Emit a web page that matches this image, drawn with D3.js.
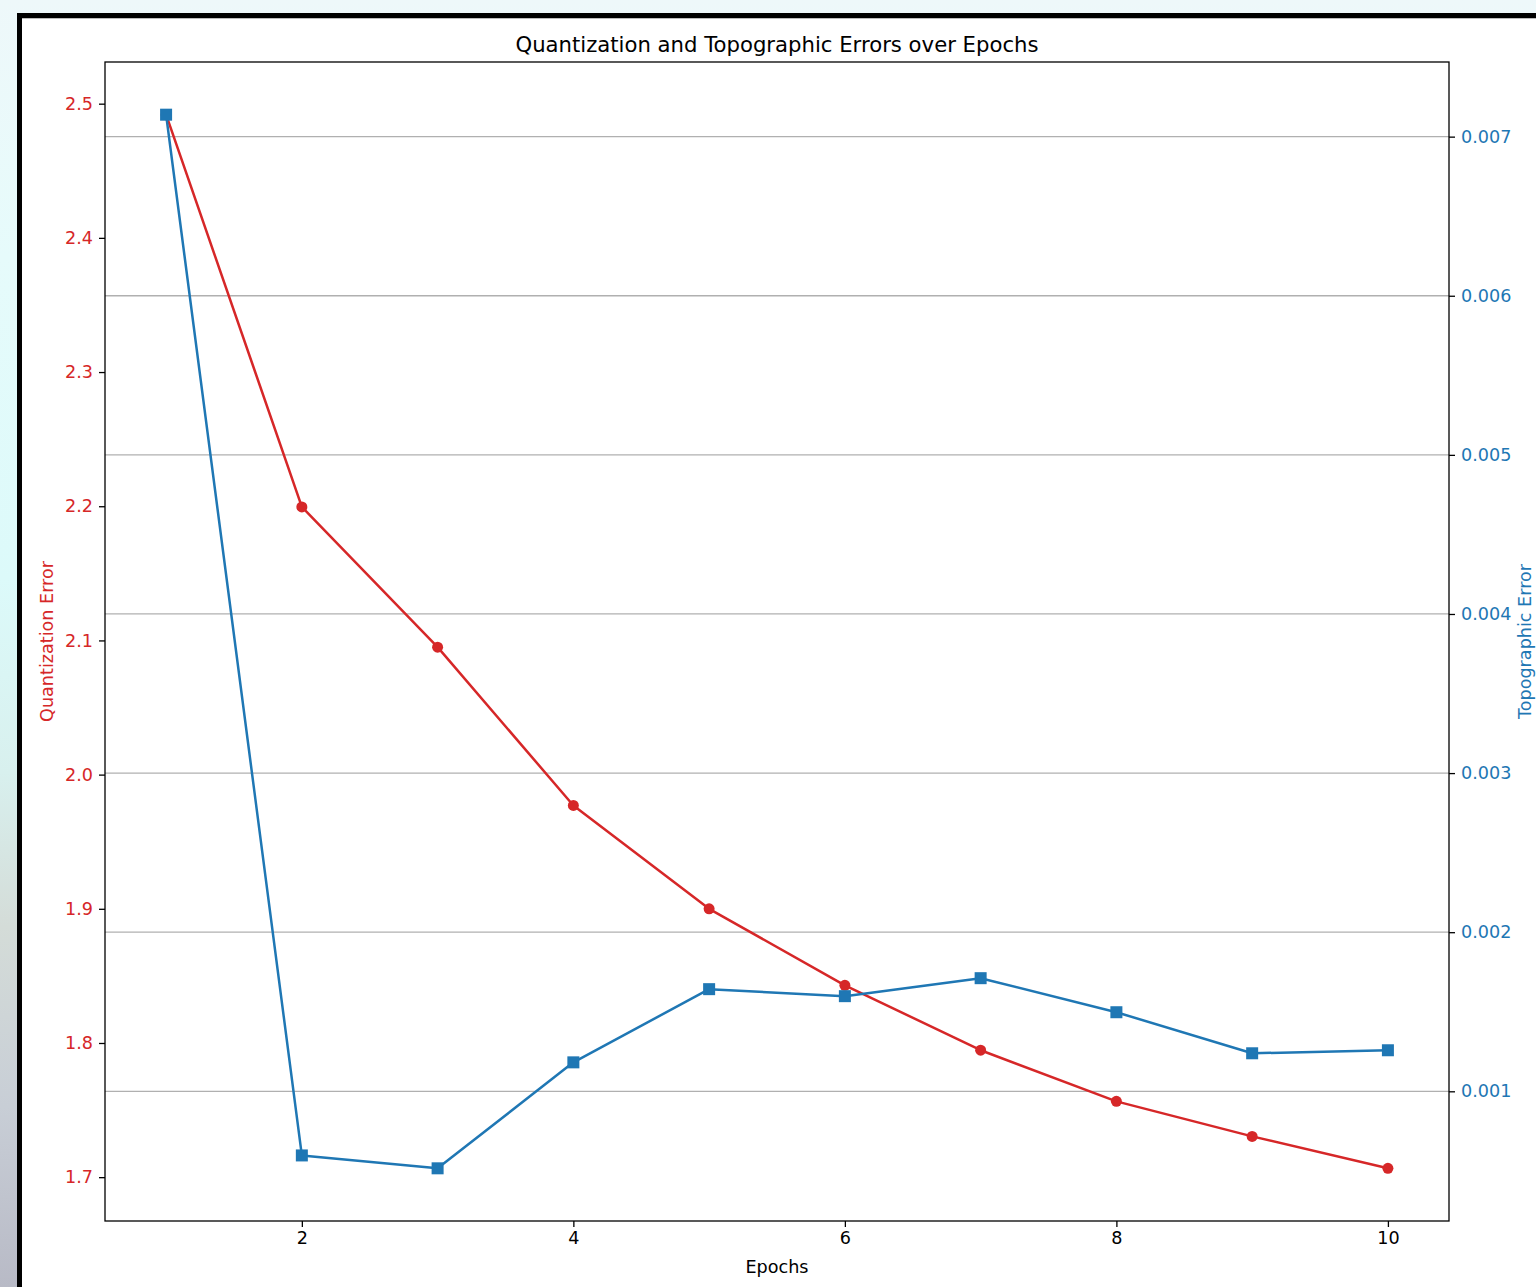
<!DOCTYPE html>
<html>
<head>
<meta charset="utf-8">
<script src="https://cdn.jsdelivr.net/npm/d3@7"></script>
<style>
  html, body { margin: 0; padding: 0; background: #fff; }
  svg { display: block; font-family: "DejaVu Sans", sans-serif; }
</style>
</head>
<body>
<svg id="chart" width="1536" height="1287"></svg>
<script>
// Training history
const epochs = [1, 2, 3, 4, 5, 6, 7, 8, 9, 10];
const quantizationError = [2.4918, 2.1995, 2.095, 1.977, 1.900, 1.843, 1.7946, 1.7565, 1.7304, 1.7066];
const topographicError = [0.007138, 0.000597, 0.000516, 0.001182, 0.001642, 0.001598, 0.001711, 0.001497, 0.001239, 0.001258];
const xTicks = [2, 4, 6, 8, 10];
const qTicks = [1.7, 1.8, 1.9, 2.0, 2.1, 2.2, 2.3, 2.4, 2.5];
const tTicks = [0.001, 0.002, 0.003, 0.004, 0.005, 0.006, 0.007];

const RED = "#d62728", BLUE = "#1f77b4";
const W = 1536, H = 1287;
const svg = d3.select("#chart");

// Page backdrop
const defs = svg.append("defs");
const grad = defs.append("linearGradient").attr("id", "bg").attr("x1", 0).attr("y1", 0).attr("x2", 0).attr("y2", 1);
[[0, "#eef8fa"], [0.2, "#e6fbfb"], [0.45, "#dcfafa"], [0.6, "#d8f0ee"], [0.72, "#d4dcd8"], [0.86, "#c8ced6"], [1, "#b8bac6"]]
  .forEach(([o, c]) => grad.append("stop").attr("offset", o).attr("stop-color", c));
svg.append("rect").attr("width", W).attr("height", H).attr("fill", "url(#bg)");

// Figure frame
svg.append("rect").attr("x", 17).attr("y", 13).attr("width", W).attr("height", H).attr("fill", "#000");
svg.append("rect").attr("x", 22).attr("y", 18).attr("width", W).attr("height", H).attr("fill", "#fff");
svg.append("line").attr("x1", 22).attr("x2", W).attr("y1", 18.5).attr("y2", 18.5).attr("stroke", "#bbb").attr("stroke-width", 1);

// Plot area
const plot = { left: 105, right: 1449, top: 62, bottom: 1221 };

function padded(vals) {
  const [lo, hi] = d3.extent(vals);
  const m = (hi - lo) * 0.05;
  return [lo - m, hi + m];
}

const x = d3.scaleLinear().domain(padded(epochs)).range([plot.left, plot.right]);
const yQ = d3.scaleLinear().domain(padded(quantizationError)).range([plot.bottom, plot.top]);
const yT = d3.scaleLinear().domain(padded(topographicError)).range([plot.bottom, plot.top]);

const fs = 17.6;

// Horizontal grid from the right-hand axis
svg.append("g").selectAll("line").data(tTicks).join("line")
  .attr("x1", plot.left).attr("x2", plot.right)
  .attr("y1", d => yT(d)).attr("y2", d => yT(d))
  .attr("stroke", "#b0b0b0").attr("stroke-width", 1.3);

// Quantization error series
svg.append("path").datum(epochs.map((e, i) => [e, quantizationError[i]]))
  .attr("d", d3.line().x(d => x(d[0])).y(d => yQ(d[1])))
  .attr("fill", "none").attr("stroke", RED).attr("stroke-width", 2.5).attr("stroke-linejoin", "round");
svg.append("g").selectAll("circle").data(epochs).join("circle")
  .attr("cx", d => x(d)).attr("cy", (d, i) => yQ(quantizationError[i]))
  .attr("r", 5.5).attr("fill", RED);

// Topographic error series
svg.append("path").datum(epochs.map((e, i) => [e, topographicError[i]]))
  .attr("d", d3.line().x(d => x(d[0])).y(d => yT(d[1])))
  .attr("fill", "none").attr("stroke", BLUE).attr("stroke-width", 2.5).attr("stroke-linejoin", "round");
const sq = 12;
svg.append("g").selectAll("rect").data(epochs).join("rect")
  .attr("x", d => x(d) - sq / 2).attr("y", (d, i) => yT(topographicError[i]) - sq / 2)
  .attr("width", sq).attr("height", sq).attr("fill", BLUE);

// Axes
function styleAxis(g, color) {
  g.select(".domain").remove();
  g.selectAll(".tick line").attr("stroke", "#000").attr("stroke-width", 1.3);
  g.selectAll(".tick text").attr("fill", color).attr("font-size", fs).attr("font-family", "DejaVu Sans");
}
svg.append("g").attr("transform", `translate(0,${plot.bottom})`)
  .call(d3.axisBottom(x).tickValues(xTicks).tickSize(6).tickPadding(5).tickFormat(d3.format("d")))
  .call(g => styleAxis(g, "#000"));
svg.append("g").attr("transform", `translate(${plot.left},0)`)
  .call(d3.axisLeft(yQ).tickValues(qTicks).tickSize(6).tickPadding(6).tickFormat(d3.format(".1f")))
  .call(g => styleAxis(g, RED));
svg.append("g").attr("transform", `translate(${plot.right},0)`)
  .call(d3.axisRight(yT).tickValues(tTicks).tickSize(6).tickPadding(6).tickFormat(d3.format(".3f")))
  .call(g => styleAxis(g, BLUE));

// Frame
svg.append("rect").attr("x", plot.left).attr("y", plot.top)
  .attr("width", plot.right - plot.left).attr("height", plot.bottom - plot.top)
  .attr("fill", "none").attr("stroke", "#000").attr("stroke-width", 1.3);

// Titles
const cx = (plot.left + plot.right) / 2, cy = (plot.top + plot.bottom) / 2;
svg.append("text").attr("x", cx).attr("y", 52).attr("text-anchor", "middle")
  .attr("font-size", 21.2).attr("fill", "#000").text("Quantization and Topographic Errors over Epochs");
svg.append("text").attr("x", cx).attr("y", 1273).attr("text-anchor", "middle")
  .attr("font-size", fs).attr("fill", "#000").text("Epochs");
svg.append("text").attr("transform", `translate(53,${cy}) rotate(-90)`).attr("text-anchor", "middle")
  .attr("font-size", fs).attr("fill", RED).text("Quantization Error");
svg.append("text").attr("transform", `translate(1531,${cy}) rotate(-90)`).attr("text-anchor", "middle")
  .attr("font-size", fs).attr("fill", BLUE).text("Topographic Error");
</script>
</body>
</html>
